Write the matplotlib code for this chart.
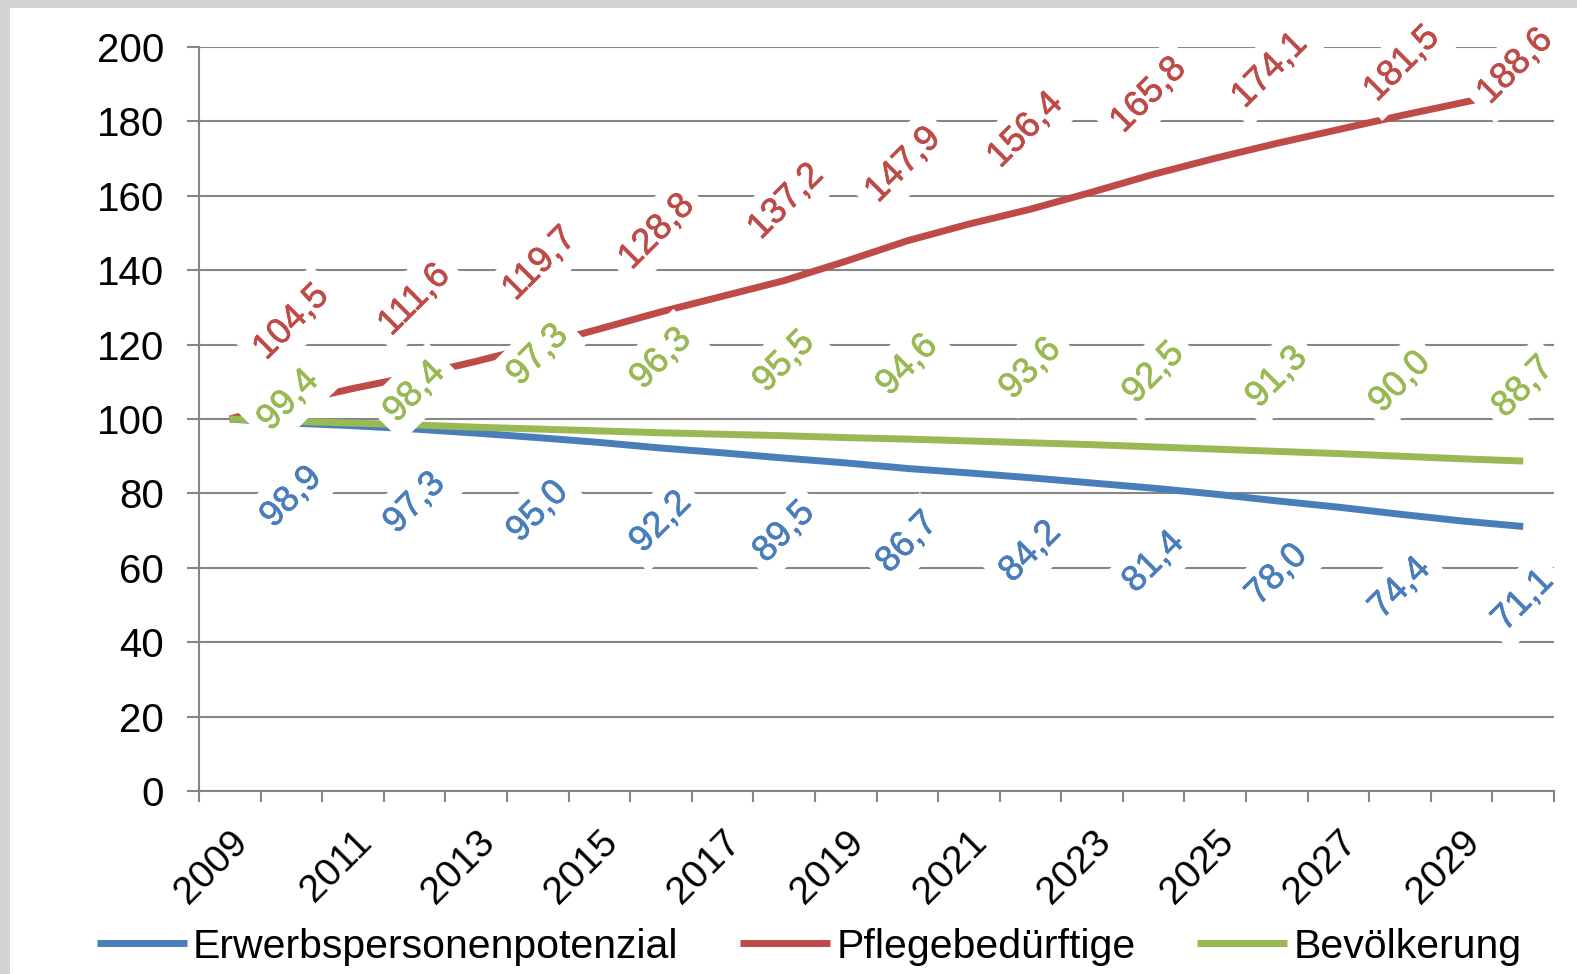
import matplotlib
matplotlib.use("Agg")
import matplotlib.pyplot as plt
import matplotlib.transforms as mtransforms
import matplotlib.patheffects as pe
from matplotlib.patches import Rectangle

plt.rcParams['font.family'] = ['Liberation Sans', 'DejaVu Sans']

years = list(range(2009, 2031))
erwerb = [100.0, 98.9, 98.2, 97.3, 96.2, 95.0, 93.7, 92.2, 90.9, 89.5, 88.2,
          86.7, 85.5, 84.2, 82.8, 81.4, 79.8, 78.0, 76.3, 74.4, 72.6, 71.1]
pflege = [100.0, 104.5, 108.2, 111.6, 115.5, 119.7, 124.2, 128.8, 133.0, 137.2, 142.4,
          147.9, 152.4, 156.4, 161.0, 165.8, 170.1, 174.1, 177.8, 181.5, 185.0, 188.6]
bevoelk = [100.0, 99.4, 98.9, 98.4, 97.8, 97.3, 96.8, 96.3, 95.9, 95.5, 95.0,
           94.6, 94.1, 93.6, 93.1, 92.5, 91.9, 91.3, 90.7, 90.0, 89.3, 88.7]
names = ['Erwerbspersonenpotenzial', 'Pflegebedürftige', 'Bevölkerung']
colors = ['#4a7ebb', '#be4b48', '#98b954']

# label offsets in pixels (dx, dy) for every second year (2010, 2012, ...)
off_blue = [(0, -74)] * 11
off_red = [(0, 80), (0, 76), (2, 82), (-4, 80), (2, 79), (-4, 76),
           (-5, 79), (-5, 79), (-7, 73), (2, 52), (-8, 23)]
off_green = [(-3, 21), (0, 33)] + [(0, 74)] * 9

fig = plt.figure(figsize=(15.77, 9.74), dpi=100)
fig.patch.set_facecolor('white')
# grey frame strips (left and top), drawn above everything
fig.patches.append(Rectangle((0, 0), 10 / 1577, 1, transform=fig.transFigure,
                             facecolor='#d4d4d4', edgecolor='none', zorder=10))
fig.patches.append(Rectangle((0, (974 - 8) / 974), 1, 8 / 974, transform=fig.transFigure,
                             facecolor='#d4d4d4', edgecolor='none', zorder=10))
ax = fig.add_axes([199 / 1577, (974 - 791) / 974, (1554 - 199) / 1577, (791 - 47) / 974])
ax.set_facecolor('none')

xs = list(range(len(years)))
series = [erwerb, pflege, bevoelk]
offsets = [off_blue, off_red, off_green]
for vals, col, name in zip(series, colors, names):
    ax.plot(xs, vals, color=col, lw=5, label=name, zorder=3, solid_capstyle='butt')

for vals, col, offs in zip(series, colors, offsets):
    for k, i in enumerate(range(1, len(years), 2)):
        dx, dy = offs[k]
        txt = f"{vals[i]:.1f}".replace('.', ',')
        ax.annotate(txt, (xs[i], vals[i]), xytext=(dx, dy), textcoords='offset pixels',
                    ha='center', va='center', rotation=45, rotation_mode='anchor',
                    fontsize=26, color=col, zorder=5, annotation_clip=False,
                    path_effects=[pe.withStroke(linewidth=0.5, foreground=col)],
                    bbox=dict(boxstyle='square,pad=0.25', fc='white', ec='none'))

ax.set_xlim(-0.5, len(years) - 0.5)
ax.set_ylim(0, 200)
ax.set_yticks(range(0, 201, 20))
ax.grid(axis='y', color='#868686', lw=1.5, zorder=1)
ax.set_axisbelow(True)

ax.set_xticks([x - 0.5 for x in range(len(years) + 1)])
ax.set_xticklabels([])
ax.set_xticks(xs[::2], minor=True)
ax.set_xticklabels([str(y) for y in years[::2]], minor=True, rotation=45,
                   ha='right', rotation_mode='anchor', fontsize=28)
shift = mtransforms.ScaledTranslation(-9 / 100, 0, fig.dpi_scale_trans)
for lbl in ax.get_xticklabels(minor=True):
    lbl.set_transform(lbl.get_transform() + shift)
ax.tick_params(axis='x', which='major', length=8, width=1.5, color='#868686', direction='out')
ax.tick_params(axis='x', which='minor', length=0, pad=24)
ax.tick_params(axis='y', length=9, width=1.5, color='#868686', pad=16, labelsize=29)

for s in ['top', 'right']:
    ax.spines[s].set_visible(False)
for s in ['left', 'bottom']:
    ax.spines[s].set_color('#868686')
    ax.spines[s].set_linewidth(1.5)

fig.legend(loc='center', bbox_to_anchor=(0.513, 0.028), ncol=3, frameon=False,
           fontsize=29.5, handlelength=2.2, handletextpad=0.15, columnspacing=1.5)

fig.savefig('out.png', dpi=100, facecolor=fig.get_facecolor())
